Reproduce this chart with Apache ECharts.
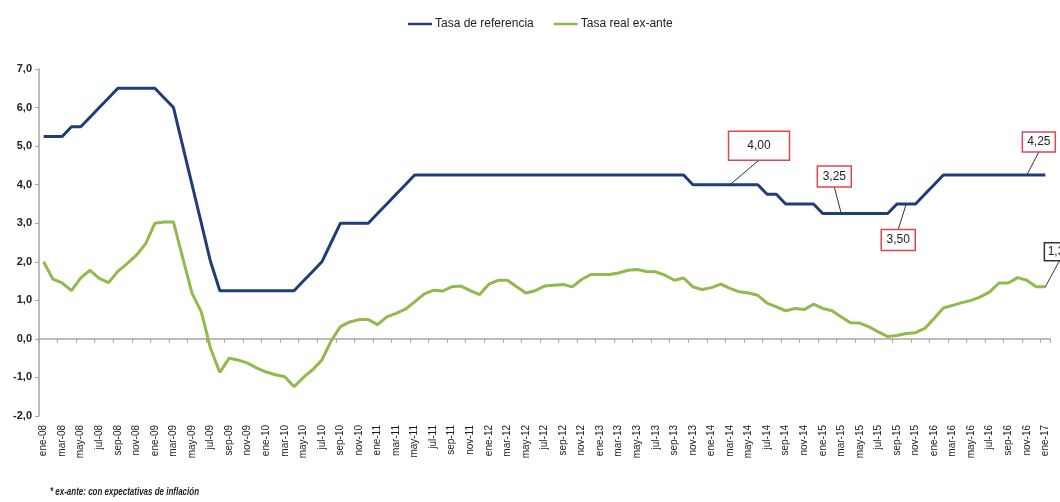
<!DOCTYPE html>
<html>
<head>
<meta charset="utf-8">
<script src="https://cdn.jsdelivr.net/npm/echarts@6/dist/echarts.min.js"></script>
<style>
  html, body { margin: 0; padding: 0; background: #ffffff; }
  #chart { width: 1060px; height: 502px; }
</style>
</head>
<body>
<div id="chart"></div>
<script>
// Month abbreviations and years used to build the monthly category axis (ene-08 .. ene-17)
const MONTHS = ['ene', 'feb', 'mar', 'abr', 'may', 'jun', 'jul', 'ago', 'sep', 'oct', 'nov', 'dic'];
const YEARS = ['08', '09', '10', '11', '12', '13', '14', '15', '16', '17'];

const CATEGORIES = [];
YEARS.forEach(function (yy) {
  MONTHS.forEach(function (mm) {
    if (CATEGORIES.length < 109) CATEGORIES.push(mm + '-' + yy);
  });
});

// Tasa de referencia (%), monthly
const REF_RATE = [
  5.25, 5.25, 5.25, 5.50, 5.50, 5.75, 6.00, 6.25, 6.50, 6.50, 6.50, 6.50,   // 2008
  6.50, 6.25, 6.00, 5.00, 4.00, 3.00, 2.00, 1.25, 1.25, 1.25, 1.25, 1.25,   // 2009
  1.25, 1.25, 1.25, 1.25, 1.50, 1.75, 2.00, 2.50, 3.00, 3.00, 3.00, 3.00,   // 2010
  3.25, 3.50, 3.75, 4.00, 4.25, 4.25, 4.25, 4.25, 4.25, 4.25, 4.25, 4.25,   // 2011
  4.25, 4.25, 4.25, 4.25, 4.25, 4.25, 4.25, 4.25, 4.25, 4.25, 4.25, 4.25,   // 2012
  4.25, 4.25, 4.25, 4.25, 4.25, 4.25, 4.25, 4.25, 4.25, 4.25, 4.00, 4.00,   // 2013
  4.00, 4.00, 4.00, 4.00, 4.00, 4.00, 3.75, 3.75, 3.50, 3.50, 3.50, 3.50,   // 2014
  3.25, 3.25, 3.25, 3.25, 3.25, 3.25, 3.25, 3.25, 3.50, 3.50, 3.50, 3.75,   // 2015
  4.00, 4.25, 4.25, 4.25, 4.25, 4.25, 4.25, 4.25, 4.25, 4.25, 4.25, 4.25,   // 2016
  4.25                                                                      // 2017
];

// Tasa real ex-ante (%), monthly
const REAL_RATE = [
  2.00, 1.55, 1.45, 1.25, 1.58, 1.78, 1.57, 1.46, 1.75, 1.95, 2.17, 2.47,   // 2008
  3.00, 3.03, 3.03, 2.10, 1.18, 0.70, -0.25, -0.87, -0.50, -0.55, -0.63, -0.76, // 2009
  -0.86, -0.93, -0.98, -1.24, -1.00, -0.80, -0.55, -0.05, 0.32, 0.44, 0.50, 0.50, // 2010
  0.37, 0.57, 0.66, 0.77, 0.96, 1.16, 1.26, 1.24, 1.35, 1.37, 1.25, 1.15,   // 2011
  1.42, 1.52, 1.52, 1.35, 1.19, 1.25, 1.37, 1.39, 1.41, 1.35, 1.54, 1.67,   // 2012
  1.67, 1.67, 1.71, 1.78, 1.80, 1.75, 1.74, 1.65, 1.52, 1.58, 1.35, 1.28,   // 2013
  1.33, 1.42, 1.31, 1.22, 1.19, 1.13, 0.93, 0.83, 0.73, 0.79, 0.76, 0.90,   // 2014
  0.79, 0.73, 0.57, 0.42, 0.41, 0.31, 0.18, 0.06, 0.09, 0.14, 0.16, 0.27,   // 2015
  0.53, 0.80, 0.87, 0.94, 1.00, 1.09, 1.22, 1.45, 1.45, 1.59, 1.52, 1.35,   // 2016
  1.35                                                                      // 2017
];

const SERIES_NAMES = ['Tasa de referencia', 'Tasa real ex-ante'];
const FOOTNOTE = '* ex-ante: con expectativas de inflación';

// Callouts: which series / month to tag, where the box sits relative to the point
const CALLOUTS = [
  { series: 0, index: 74,  dx: 29,  dy: -39, w: 61, h: 29, border: '#e0474c' },
  { series: 0, index: 86,  dx: -7,  dy: -37, w: 34, h: 21, border: '#e0474c' },
  { series: 0, index: 93,  dx: -8,  dy: 36,  w: 34, h: 21, border: '#e0474c' },
  { series: 0, index: 106, dx: 12,  dy: -33, w: 33, h: 20, border: '#e0474c' },
  { series: 1, index: 108, dx: 14,  dy: -35, w: 30, h: 18, border: '#333333' }
];

const BLUE = '#1f3e79';
const GREEN = '#93b84c';
const AXIS_GREY = '#a6a6a6';
const FONT = '"Liberation Sans", Arial, sans-serif';

function fmt(v, d) {
  return v.toFixed(d).replace('.', ',');
}

const chart = echarts.init(document.getElementById('chart'), null, { renderer: 'canvas' });

const option = {
  animation: false,
  backgroundColor: '#ffffff',
  textStyle: { fontFamily: FONT },
  legend: {
    top: 13,
    left: 403,
    itemGap: 20,
    itemWidth: 24,
    itemHeight: 2.5,
    icon: 'rect',
    textStyle: { fontSize: 12, color: '#222222', fontFamily: FONT, padding: [0, 0, 0, -2] },
    data: SERIES_NAMES
  },
  grid: { left: 39, right: 10, top: 69, bottom: 86, containLabel: false },
  xAxis: [
    {
      type: 'category',
      data: CATEGORIES,
      position: 'bottom',
      boundaryGap: true,
      axisLine: { onZero: true, lineStyle: { color: AXIS_GREY, width: 1.5 } },
      axisTick: { show: true, interval: 1, length: 4, lineStyle: { color: AXIS_GREY } },
      axisLabel: { show: false },
      splitLine: { show: false }
    },
    {
      type: 'category',
      data: CATEGORIES,
      position: 'bottom',
      boundaryGap: true,
      axisLine: { show: false, onZero: false },
      axisTick: { show: false },
      axisLabel: {
        show: true,
        interval: 1,
        rotate: 90,
        margin: 9,
        fontSize: 10,
        color: '#1a1a1a',
        fontFamily: FONT
      },
      splitLine: { show: false }
    }
  ],
  yAxis: {
    type: 'value',
    min: -2,
    max: 7,
    interval: 1,
    axisLine: { show: true, lineStyle: { color: AXIS_GREY, width: 1.5 } },
    axisTick: { show: true, length: 4, lineStyle: { color: AXIS_GREY } },
    axisLabel: {
      fontSize: 11,
      fontWeight: 'bold',
      color: '#222222',
      margin: 7,
      fontFamily: FONT,
      formatter: function (v) { return fmt(v, 1); }
    },
    splitLine: { show: false }
  },
  series: [
    {
      name: SERIES_NAMES[0],
      type: 'line',
      xAxisIndex: 0,
      data: REF_RATE,
      symbol: 'none',
      lineStyle: { color: BLUE, width: 3 },
      itemStyle: { color: BLUE },
      z: 3
    },
    {
      name: SERIES_NAMES[1],
      type: 'line',
      xAxisIndex: 0,
      data: REAL_RATE,
      symbol: 'none',
      lineStyle: { color: GREEN, width: 3 },
      itemStyle: { color: GREEN },
      z: 2
    }
  ]
};

chart.setOption(option);

// Build the value callouts (box + leader line) from the series data
const seriesData = [REF_RATE, REAL_RATE];
const elements = [];
CALLOUTS.forEach(function (c) {
  const val = seriesData[c.series][c.index];
  const p = chart.convertToPixel({ xAxisIndex: 0, yAxisIndex: 0 }, [c.index, val]);
  const cx = p[0] + c.dx;
  const cy = p[1] + c.dy;
  const edgeY = c.dy < 0 ? cy + c.h / 2 : cy - c.h / 2;
  elements.push({
    type: 'line',
    shape: { x1: p[0], y1: p[1], x2: cx, y2: edgeY },
    style: { stroke: '#333333', lineWidth: 1 },
    z: 10
  });
  elements.push({
    type: 'rect',
    shape: { x: cx - c.w / 2, y: cy - c.h / 2, width: c.w, height: c.h },
    style: { fill: '#ffffff', stroke: c.border, lineWidth: 1.5 },
    z: 11
  });
  elements.push({
    type: 'text',
    x: cx,
    y: cy,
    style: {
      text: fmt(val, 2),
      fill: '#222222',
      font: '12px ' + FONT,
      align: 'center',
      verticalAlign: 'middle'
    },
    z: 12
  });
});

// Footnote under the axis labels
elements.push({
  type: 'text',
  x: 50,
  y: 492,
  scaleX: 0.76,
  style: {
    text: FOOTNOTE,
    fill: '#222222',
    font: 'italic bold 10.5px ' + FONT,
    align: 'left',
    verticalAlign: 'middle'
  }
});

chart.setOption({ graphic: { elements: elements } });
</script>
</body>
</html>
